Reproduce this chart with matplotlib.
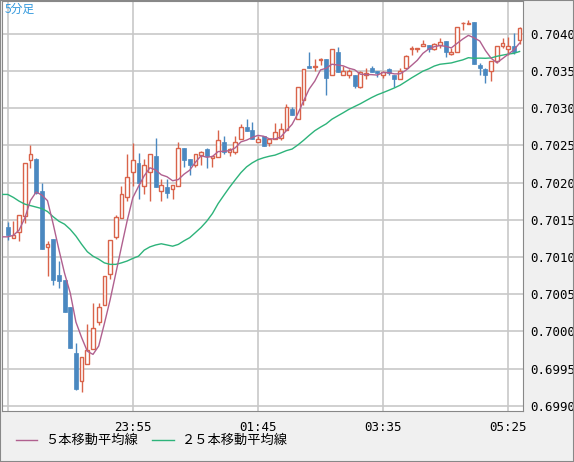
import matplotlib
matplotlib.use("Agg")
import matplotlib.pyplot as plt
import numpy as np
import pandas as pd

# OHLC in units of 0.0001 (price*10000), 5-minute candles from 22:05 to 05:35
ohlc = [
(7014.0,7014.7,7012.3,7012.9),(7012.6,7014.8,7012.5,7013.0),(7013.3,7015.7,7012.2,7015.6),
(7015.5,7022.6,7014.6,7022.6),(7023.0,7025.0,7021.9,7023.8),(7023.2,7023.3,7018.4,7018.6),
(7018.9,7019.9,7011.0,7011.0),(7011.4,7012.1,7007.4,7011.8),(7012.4,7012.4,7006.2,7006.9),
(7007.6,7009.5,7005.8,7006.7),(7006.9,7006.9,7002.6,7002.6),(7003.3,7003.3,6997.7,6997.7),
(6997.1,6998.4,6992.1,6992.3),(6993.3,6996.5,6991.8,6996.5),(6995.6,7001.0,6995.6,6997.5),
(6997.6,7003.8,6997.6,7000.5),(7001.2,7003.8,7000.9,7003.3),(7003.6,7007.4,7003.5,7007.4),
(7007.7,7012.3,7007.0,7012.3),(7012.7,7015.7,7012.4,7015.3),(7015.2,7019.5,7015.2,7018.4),
(7018.0,7023.9,7017.5,7020.8),(7021.4,7025.3,7019.5,7023.0),(7022.6,7024.0,7017.8,7019.9),
(7019.6,7023.1,7018.5,7022.4),(7021.4,7023.8,7017.5,7023.8),(7023.6,7026.0,7019.4,7019.4),
(7018.9,7020.5,7017.5,7019.7),(7019.4,7020.5,7017.9,7018.6),(7019.1,7019.7,7017.8,7019.7),
(7019.6,7025.4,7019.6,7024.6),(7024.6,7024.6,7022.1,7023.0),(7023.1,7023.1,7021.0,7022.4),
(7022.4,7023.9,7022.1,7023.9),(7023.7,7024.2,7022.4,7024.1),(7024.5,7024.6,7022.0,7023.6),
(7023.3,7023.5,7022.1,7023.5),(7023.4,7027.1,7023.4,7025.7),(7025.4,7026.2,7023.8,7024.1),
(7024.1,7024.7,7023.6,7024.5),(7024.1,7026.2,7023.9,7025.5),(7025.8,7027.8,7025.8,7027.5),
(7027.5,7028.5,7026.9,7026.9),(7027.0,7028.1,7025.8,7025.9),(7025.4,7026.3,7025.4,7025.9),
(7026.3,7026.3,7024.9,7024.9),(7025.3,7025.8,7024.9,7025.8),(7025.8,7028.0,7025.8,7026.8),
(7026.0,7028.0,7025.7,7027.2),(7027.0,7030.6,7027.0,7030.2),(7029.9,7030.1,7029.1,7029.1),
(7028.6,7032.9,7028.6,7032.9),(7031.1,7035.3,7030.4,7035.2),(7035.6,7037.5,7035.4,7035.4),
(7035.5,7036.6,7035.0,7035.6),(7036.5,7036.7,7035.8,7036.6),(7036.6,7036.6,7031.8,7034.0),
(7034.4,7038.0,7034.4,7037.9),(7037.5,7038.2,7034.9,7034.9),(7034.5,7035.7,7034.5,7035.0),
(7034.4,7035.2,7034.0,7035.0),(7034.5,7034.5,7032.7,7033.0),(7032.8,7035.0,7032.7,7034.9),
(7034.4,7035.4,7033.9,7034.7),(7035.4,7035.6,7034.8,7034.9),(7035.0,7035.0,7034.2,7034.7),
(7034.5,7035.0,7034.0,7034.8),(7035.2,7035.4,7034.4,7034.7),(7034.4,7034.4,7032.8,7033.9),
(7033.9,7035.4,7033.9,7035.0),(7035.4,7037.1,7035.4,7037.0),(7038.0,7038.4,7037.2,7038.1),
(7038.0,7038.1,7037.6,7038.1),(7038.4,7039.1,7038.4,7038.6),(7038.5,7038.5,7037.5,7037.9),
(7037.9,7038.8,7037.8,7038.6),(7038.5,7039.4,7038.1,7038.9),(7039.0,7039.0,7036.9,7037.5),
(7037.3,7038.1,7037.1,7037.6),(7037.5,7040.9,7037.5,7040.9),(7041.4,7041.6,7040.5,7041.5),
(7041.3,7041.9,7041.3,7041.4),(7041.6,7041.6,7035.9,7035.9),(7035.8,7036.0,7034.5,7035.4),
(7035.2,7035.4,7033.4,7034.5),(7035.0,7036.3,7033.6,7036.3),(7036.3,7038.4,7036.1,7038.4),
(7038.4,7039.4,7038.1,7038.7),(7038.0,7039.5,7037.2,7038.3),(7038.3,7040.1,7037.3,7037.5),
(7039.2,7040.9,7038.6,7040.8),
]
# moving-average values read from the chart where earlier history is not shown
ma5_head = [7012.7, 7012.9, 7013.6, 7015.2]
ma25_head = [7018.4, 7018.0, 7017.5, 7017.1, 7016.9, 7016.7, 7016.5, 7016.1, 7015.4, 7014.8,
             7014.4, 7013.7, 7012.8, 7011.7, 7010.7, 7010.1, 7009.7, 7009.2, 7009.0, 7009.0,
             7009.2, 7009.45, 7009.8, 7010.1]
time_labels = ["", "23:55", "01:45", "03:35", "05:25"]
price_ticks = [0.6990, 0.6995, 0.7000, 0.7005, 0.7010, 0.7015, 0.7020, 0.7025, 0.7030, 0.7035, 0.7040]

df = pd.DataFrame(ohlc, columns=["o", "h", "l", "c"]) / 10000.0
n = len(df)
x = np.arange(n)
ma5 = df["c"].rolling(5).mean().to_numpy()
ma5[:4] = np.array(ma5_head) / 10000.0
ma25 = df["c"].rolling(25).mean().to_numpy()
ma25[:24] = np.array(ma25_head) / 10000.0

RED = "#d9634a"; BLUE = "#4a88c0"; MAG = "#b0608f"; GRN = "#2db37a"
W, H = 574, 462
fig = plt.figure(figsize=(W/100, H/100), dpi=100, facecolor="#f0f0f0")
ax = fig.add_axes([2/W, 1-411/H, 521/W, 410/H])
ax.set_facecolor("white")

up = df["c"] >= df["o"]
ax.vlines(x, df["l"], df["h"], colors=[RED if u else BLUE for u in up], linewidth=1, zorder=2)
bot = np.minimum(df["o"], df["c"]); top = np.maximum(df["o"], df["c"])
hgt = np.maximum(top - bot, 0.000003)
ax.bar(x[up], hgt[up], bottom=bot[up], width=0.65, facecolor="white", edgecolor=RED, linewidth=1, zorder=3)
ax.bar(x[~up], hgt[~up], bottom=bot[~up], width=0.7, facecolor=BLUE, edgecolor=BLUE, linewidth=0.5, zorder=3)
ax.plot(np.concatenate([[-1.2], x]), np.concatenate([[ma25[0]], ma25]), color=GRN, lw=1, zorder=4)
ax.plot(np.concatenate([[-1.2], x]), np.concatenate([[ma5[0]], ma5]), color=MAG, lw=1, zorder=4)

ax.set_xlim(-1.0, 90.6)
ax.set_ylim(0.698929, 0.704440)
ax.set_xticks([0, 22, 44, 66, 88])
ax.set_xticklabels(time_labels, family="DejaVu Sans Mono", fontsize=9)
ax.set_yticks(price_ticks)
ax.set_yticklabels([f"{p:.4f}" for p in price_ticks], family="DejaVu Sans Mono", fontsize=9)
ax.yaxis.tick_right()
ax.tick_params(length=0, pad=5)
ax.tick_params(axis="x", pad=7)
ax.grid(True, color="#c8c8c8", lw=1.2, zorder=0)
ax.set_axisbelow(True)
for s in ax.spines.values():
    s.set_color("#888888")

fig.text(5/W, 1-13/H, "5分足", color="#3399dd", fontsize=8.5, family=["Noto Sans CJK JP", "DejaVu Sans"])
fig.add_artist(plt.Line2D([16/W, 37/W], [1-440/H]*2, color=MAG, lw=1))
fig.text(45/W, 1-440/H, "５本移動平均線", fontsize=9.5, va="center", family=["Noto Sans CJK JP", "DejaVu Sans"])
fig.add_artist(plt.Line2D([152/W, 174/W], [1-440/H]*2, color=GRN, lw=1))
fig.text(182/W, 1-440/H, "２５本移動平均線", fontsize=9.5, va="center", family=["Noto Sans CJK JP", "DejaVu Sans"])
fig.add_artist(plt.Rectangle((0, 0), 1, 1, fill=False, edgecolor="#888888", lw=1.5, transform=fig.transFigure))
fig.savefig("out.png", dpi=100, facecolor=fig.get_facecolor())
